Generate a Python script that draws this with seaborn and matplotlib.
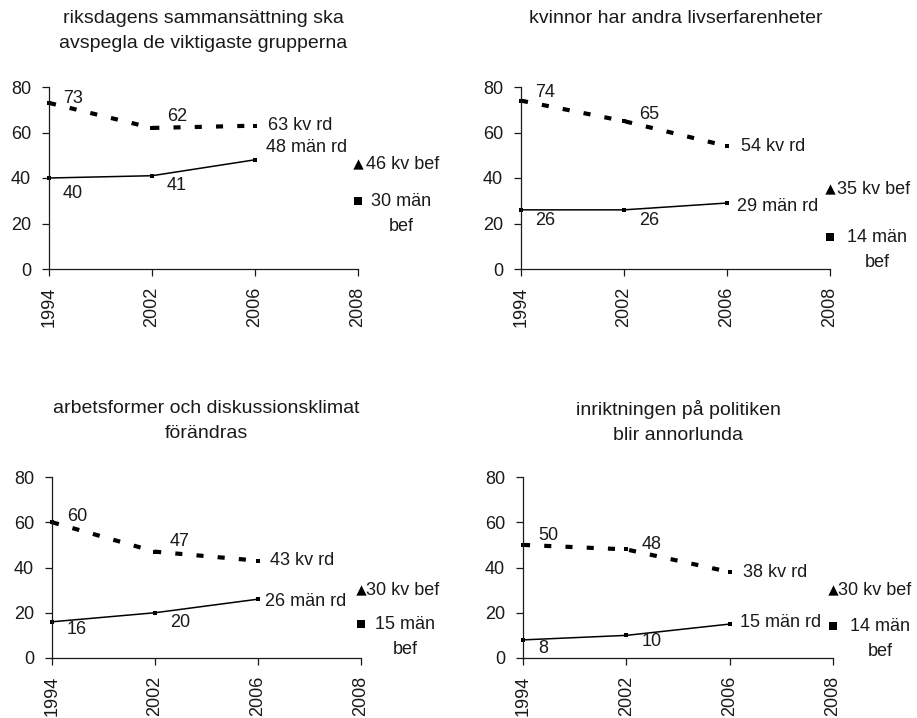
import matplotlib
matplotlib.use("Agg")
import matplotlib.pyplot as plt
import seaborn as sns

# plain white style, Helvetica-like font
sns.set_theme(style="white")
plt.rcParams.update({
    "font.family": ["Liberation Sans", "DejaVu Sans"],
    "font.size": 13,
    "text.color": "#1a1a1a",
    "axes.edgecolor": "#1a1a1a",
    "xtick.color": "#1a1a1a",
    "ytick.color": "#1a1a1a",
})

# data
years = ["1994", "2002", "2006", "2008"]
titles = [
    "riksdagens sammansättning ska\navspegla de viktigaste grupperna",
    "kvinnor har andra livserfarenheter",
    "arbetsformer och diskussionsklimat\nförändras",
    "inriktningen på politiken\nblir annorlunda",
]
kv_rd = [[73, 62, 63], [74, 65, 54], [60, 47, 43], [50, 48, 38]]
man_rd = [[40, 41, 48], [26, 26, 29], [16, 20, 26], [8, 10, 15]]
kv_bef = [46, 35, 30, 30]
man_bef = [30, 14, 15, 14]

# label offsets (pixels) for each panel
kv_off = [[(14, 4), (15, 11), (13, 0)], [(14, 8), (15, 7), (14, 0)],
          [(15, 6), (15, 10), (12, 0)], [(15, 9), (15, 5), (13, 0)]]
man_off = [[(14, -16), (15, -10), (11, 12)], [(14, -11), (15, -11), (10, -3)],
           [(15, -8), (15, -10), (7, -2)], [(15, -9), (15, -6), (10, 2)]]
kvbef_dx = [8, 7, 5, 5]
manbef_dx = [13, 17, 14, 17]

W, H = 917, 718
boxes = [(49, 87, 358, 269), (521, 87, 830, 269),
         (52, 477, 361, 658), (523, 477, 833, 658)]
title_top = [10, 10, 400, 400]

fig = plt.figure(figsize=(W / 100, H / 100), dpi=100)

for i in range(4):
    l, t, r, b = boxes[i]
    ax = fig.add_axes([l / W, 1 - b / H, (r - l) / W, (b - t) / H])
    pos = [0, 1, 2]

    sns.lineplot(x=pos, y=kv_rd[i], ax=ax, color="black", linewidth=3.0,
                 linestyle=(0, (1.7, 3.4)), marker="s", markersize=3,
                 markeredgewidth=0, clip_on=False)
    sns.lineplot(x=pos, y=man_rd[i], ax=ax, color="black", linewidth=1.1,
                 marker="s", markersize=3, markeredgewidth=0, clip_on=False)
    sns.scatterplot(x=[3], y=[kv_bef[i]], ax=ax, marker="^", s=55,
                    color="black", linewidth=0, clip_on=False)
    sns.scatterplot(x=[3], y=[man_bef[i]], ax=ax, marker="s", s=30,
                    color="black", linewidth=0, clip_on=False)

    # point labels
    for j in range(3):
        txt = f"{kv_rd[i][j]} kv rd" if j == 2 else str(kv_rd[i][j])
        ax.annotate(txt, xy=(pos[j], kv_rd[i][j]), xytext=kv_off[i][j],
                    textcoords="offset pixels", ha="left", va="center")
        txt = f"{man_rd[i][j]} män rd" if j == 2 else str(man_rd[i][j])
        ax.annotate(txt, xy=(pos[j], man_rd[i][j]), xytext=man_off[i][j],
                    textcoords="offset pixels", ha="left", va="center")
    ax.annotate(f"{kv_bef[i]} kv bef", xy=(3, kv_bef[i]), xytext=(kvbef_dx[i], 0),
                textcoords="offset pixels", ha="left", va="center")
    ax.annotate(f"{man_bef[i]} män\nbef", xy=(3, man_bef[i]), xytext=(manbef_dx[i], 8),
                textcoords="offset pixels", ha="left", va="top",
                multialignment="center", linespacing=1.6)

    ax.set_xlim(0, 3)
    ax.set_ylim(0, 80)
    ax.set_xticks([0, 1, 2, 3])
    ax.set_xticklabels(years, rotation=90)
    ax.set_yticks([0, 20, 40, 60, 80])
    ax.tick_params(axis="both", direction="out", length=5, width=0.9,
                   labelsize=13, bottom=True, left=True)
    ax.tick_params(axis="x", pad=8)
    ax.tick_params(axis="y", pad=8)
    ax.set_xlabel("")
    ax.set_ylabel("")
    for side in ["top", "right"]:
        ax.spines[side].set_visible(False)
    for side in ["left", "bottom"]:
        ax.spines[side].set_linewidth(0.9)

    fig.text((l + r) / 2 / W, 1 - title_top[i] / H, titles[i], ha="center",
             va="top", fontsize=14, linespacing=1.6)

fig.savefig("out.png", dpi=100)
